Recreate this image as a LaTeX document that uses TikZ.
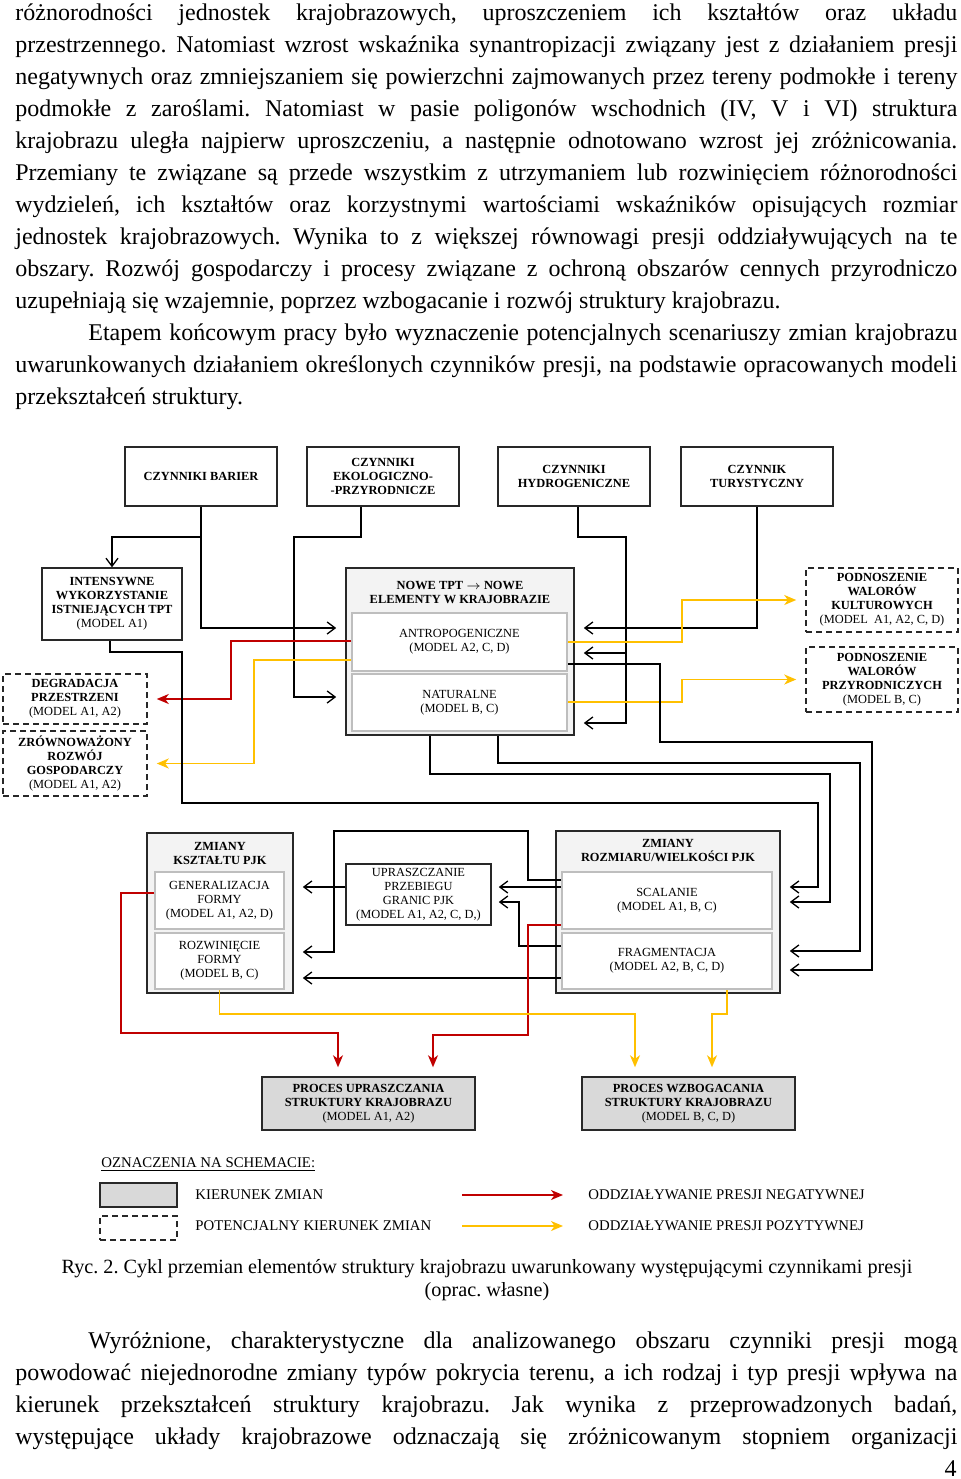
\documentclass[tikz,border=0pt]{standalone}
\usepackage{fontspec}
\setmainfont{Liberation Serif}
\usetikzlibrary{arrows.meta}
\definecolor{presneg}{RGB}{192,0,0}
\definecolor{prespos}{RGB}{255,192,0}
\definecolor{boxline}{RGB}{40,40,40}
\definecolor{groupfill}{RGB}{243,243,243}
\definecolor{innerline}{RGB}{190,190,190}
\definecolor{procfill}{RGB}{217,217,217}
\newcommand{\boxfont}{\fontsize{6.2}{7}\selectfont}
\newcommand{\legfont}{\fontsize{7.4}{8.5}\selectfont}
\newcommand{\bodyfont}{\fontsize{12}{16}\selectfont}
\tolerance=9999
\hyphenpenalty=10000
\hbadness=10000
\frenchspacing

\begin{document}
\begin{tikzpicture}[x=0.5pt, y=-0.5pt,
  factor/.style={draw=boxline, line width=0.75pt, fill=white, inner sep=0pt, align=center, font=\boxfont\bfseries},
  topbox/.style={factor, minimum width=76pt, minimum height=29.5pt},
  maybe/.style={factor, dash pattern=on 3pt off 2pt},
  group/.style={draw=boxline, line width=0.8pt, fill=groupfill, inner sep=0pt},
  grouptitle/.style={inner sep=0pt, align=center, font=\boxfont\bfseries},
  part/.style={draw=innerline, line width=0.8pt, fill=white, inner sep=0pt, align=center, font=\boxfont},
  process/.style={factor, fill=procfill, minimum width=106.5pt, minimum height=26.5pt},
  link/.style={draw=black, line width=0.65pt, -{Straight Barb[length=4pt,width=6pt]}},
  gap/.style={shorten >=4.5pt},
  negarrow/.style={draw=presneg, line width=0.75pt, -{Stealth[length=6pt,width=5pt,inset=1.8pt]}},
  posarrow/.style={negarrow, draw=prespos},
  bodytext/.style={inner sep=0pt, text width=471pt, align=justify, font=\bodyfont},
  legtext/.style={inner sep=0pt, font=\legfont}]

\useasboundingbox (0,0) rectangle (960,1479);

% === text above ===
\node[bodytext, anchor=base west] (parone) at (15,20) {różnorodności jednostek krajobrazowych, uproszczeniem ich kształtów oraz układu\linebreak przestrzennego. Natomiast wzrost wskaźnika synantropizacji związany jest z działaniem presji\linebreak negatywnych oraz zmniejszaniem się powierzchni zajmowanych przez tereny podmokłe i tereny\linebreak podmokłe z zaroślami. Natomiast w pasie poligonów wschodnich (IV, V i VI) struktura\linebreak krajobrazu uległa najpierw uproszczeniu, a następnie odnotowano wzrost jej zróżnicowania.\linebreak Przemiany te związane są przede wszystkim z utrzymaniem lub rozwinięciem różnorodności\linebreak wydzieleń, ich kształtów oraz korzystnymi wartościami wskaźników opisujących rozmiar\linebreak jednostek krajobrazowych. Wynika to z większej równowagi presji oddziaływujących na te\linebreak obszary. Rozwój gospodarczy i procesy związane z ochroną obszarów cennych przyrodniczo\linebreak uzupełniają się wzajemnie, poprzez wzbogacanie i rozwój struktury krajobrazu.};
\node[bodytext, anchor=base west] (partwo) at (15,340) {\hspace*{36.5pt}Etapem końcowym pracy było wyznaczenie potencjalnych scenariuszy zmian krajobrazu\linebreak uwarunkowanych działaniem określonych czynników presji, na podstawie opracowanych modeli\linebreak przekształceń struktury.};

% === pressure factors ===
\node[topbox] (barier) at (201,476.5) {CZYNNIKI BARIER};
\node[topbox] (eko) at (383,476.5) {CZYNNIKI\\EKOLOGICZNO-\\-PRZYRODNICZE};
\node[topbox] (hydro) at (574,476.5) {CZYNNIKI\\HYDROGENICZNE};
\node[topbox] (tury) at (757,476.5) {CZYNNIK\\TURYSTYCZNY};

% === second row ===
\node[factor, minimum width=70pt, minimum height=36pt] (intens) at (112,604) {INTENSYWNE\\WYKORZYSTANIE\\ISTNIEJĄCYCH TPT\\\mdseries(MODEL A1)};
\node[maybe, minimum width=72pt, minimum height=25pt] (degr) at (75,699) {DEGRADACJA\\PRZESTRZENI\\\mdseries(MODEL A1, A2)};
\node[maybe, minimum width=72pt, minimum height=32.5pt] (zrown) at (75,763.5) {ZRÓWNOWAŻONY\\ROZWÓJ\\GOSPODARCZY\\\mdseries(MODEL A1, A2)};
\node[group, minimum width=114pt, minimum height=83.5pt] (nowe) at (460,651.5) {};
\node[grouptitle] (nowetitle) at (460,592) {NOWE TPT $\rightarrow$ NOWE\\ELEMENTY W KRAJOBRAZIE};
\node[part, minimum width=107.5pt, minimum height=29pt] (antropo) at (459.5,642) {ANTROPOGENICZNE\\(MODEL A2, C, D)};
\node[part, minimum width=107.5pt, minimum height=28.5pt] (natural) at (459.5,702.5) {NATURALNE\\(MODEL B, C)};
\node[maybe, minimum width=76pt, minimum height=32pt] (kultur) at (882,600) {PODNOSZENIE\\WALORÓW\\KULTUROWYCH\\\mdseries(MODEL~ A1, A2, C, D)};
\node[maybe, minimum width=76pt, minimum height=32.5pt] (przyr) at (882,679.5) {PODNOSZENIE\\WALORÓW\\PRZYRODNICZYCH\\\mdseries(MODEL B, C)};

% === third row ===
\node[group, minimum width=73pt, minimum height=80pt] (ksz) at (220,913) {};
\node[grouptitle] (ksztitle) at (220,853) {ZMIANY\\KSZTAŁTU PJK};
\node[part, minimum width=64.5pt, minimum height=28.5pt] (gen) at (219.5,900.5) {GENERALIZACJA\\FORMY\\(MODEL A1, A2, D)};
\node[part, minimum width=64.5pt, minimum height=28pt] (rozw) at (219.5,961) {ROZWINIĘCIE\\FORMY\\(MODEL B, C)};
\node[factor, font=\boxfont, minimum width=72.5pt, minimum height=30.5pt] (upr) at (418.5,894.5) {UPRASZCZANIE\\PRZEBIEGU\\GRANIC PJK\\(MODEL A1, A2, C, D,)};
\node[group, minimum width=112pt, minimum height=81pt] (rozm) at (668,912) {};
\node[grouptitle] (rozmtitle) at (668,850) {ZMIANY\\ROZMIARU/WIELKOŚCI PJK};
\node[part, minimum width=105pt, minimum height=28.5pt] (scal) at (667,900.5) {SCALANIE\\(MODEL A1, B, C)};
\node[part, minimum width=105pt, minimum height=28pt] (frag) at (667,961) {FRAGMENTACJA\\(MODEL A2, B, C, D)};

% === processes ===
\node[process] (uproc) at (368.5,1103.5) {PROCES UPRASZCZANIA\\STRUKTURY KRAJOBRAZU\\\mdseries(MODEL A1, A2)};
\node[process] (wzb) at (688.5,1103.5) {PROCES WZBOGACANIA\\STRUKTURY KRAJOBRAZU\\\mdseries(MODEL B, C, D)};

% factors -> second row
\draw[link] (barier.south) |- (112,537) -- (intens.north);
\draw[link, gap] (barier.south) |- (nowe.west |- 0,628);
\draw[link, gap] (eko.south -| 361,0) |- (294,537) |- (nowe.west |- 0,697);
\draw[link, gap] (hydro.south -| 578,0) |- (626,537) |- (nowe.east |- 0,723);
\coordinate (hydrofork) at (626,653);
\draw[link, gap] (hydrofork) -- (nowe.east |- hydrofork);
\draw[link, gap] (tury.south) |- (nowe.east |- 0,628);
\draw[negarrow, gap] (antropo.west |- 0,641) -- (231,641) |- (degr.east);
\draw[posarrow, gap] (antropo.west |- 0,660) -- (254,660) |- (zrown.east);
\draw[posarrow, gap] (antropo.east |- 0,642) -- (682,642) |- (kultur.west);
\draw[posarrow, gap] (natural.east |- 0,702) -- (682,702) |- (przyr.west);

% second row -> third row
\draw[link, gap] (intens.south -| 110,0) |- (182,652) |- (818,803) |- (rozm.east |- 0,887);
\draw[link, gap] (nowe.south -| 430,0) |- (830,774) |- (rozm.east |- 0,902);
\draw[link, gap] (nowe.south -| 498,0) |- (860,763) |- (rozm.east |- 0,951);
\draw[link, gap] (antropo.east |- 0,664) -- (660,664) |- (872,742) |- (rozm.east |- 0,970);

% inside third row
\draw[link, gap] (upr.west |- 0,887) -- (ksz.east |- 0,887);
\draw[link, shorten >=3.5pt] (scal.west |- 0,887) -- (upr.east |- 0,887);
\draw[link, gap] (scal.west |- 0,880) -- (528,880) |- (334,831) |- (ksz.east |- 0,952);
\draw[link, shorten >=3.5pt] (frag.west |- 0,946) -- (519,946) |- (upr.east |- 0,902);
\draw[link, gap] (frag.west |- 0,978) -- (ksz.east |- 0,978);

% third row -> processes
\draw[negarrow, gap] (gen.west |- 0,893) -| (121,1033) -| (uproc.north -| 338,0);
\draw[negarrow, gap] (scal.west |- 0,925) -| (528,1035) -| (uproc.north -| 433,0);
\draw[posarrow, gap] (rozw.south) -- ++(0,24) -| (wzb.north -| 635,0);
\draw[posarrow, gap] (frag.south -| 727,0) -- ++(0,24) -| (wzb.north -| 712,0);

% === legend ===
\node[legtext, anchor=west] (legtitle) at (101,1165) {\underline{OZNACZENIA NA SCHEMACIE:}};
\node[draw=boxline, line width=0.75pt, fill=procfill, minimum width=38.5pt, minimum height=12pt] (legsolid) at (138.5,1195) {};
\node[draw=boxline, line width=0.75pt, dash pattern=on 3pt off 2pt, minimum width=38.5pt, minimum height=12pt] (legdashed) at (138.5,1228) {};
\node[legtext, anchor=west] (legsolidtxt) at (195,1195) {KIERUNEK ZMIAN};
\node[legtext, anchor=west] (legdashedtxt) at (195,1226) {POTENCJALNY KIERUNEK ZMIAN};
\node[legtext, anchor=west] (legneg) at (588,1195) {ODDZIAŁYWANIE PRESJI NEGATYWNEJ};
\node[legtext, anchor=west] (legpos) at (588,1226) {ODDZIAŁYWANIE PRESJI POZYTYWNEJ};
\coordinate (negstart) at (462,1195);
\coordinate (posstart) at (462,1226);
\draw[negarrow, shorten >=12.5pt] (negstart) -- (legneg.west);
\draw[posarrow, shorten >=12.5pt] (posstart) -- (legpos.west);

% === caption and text below ===
\node[align=center, inner sep=0pt, font=\fontsize{10.1}{11.5}\selectfont] (caption) at (487,1280) {Ryc. 2. Cykl przemian elementów struktury krajobrazu uwarunkowany występującymi czynnikami presji\\(oprac. własne)};
\node[bodytext, anchor=base west] (parthree) at (15,1348) {\parfillskip=0pt\hspace*{36.5pt}Wyróżnione, charakterystyczne dla analizowanego obszaru czynniki presji mogą\linebreak powodować niejednorodne zmiany typów pokrycia terenu, a ich rodzaj i typ presji wpływa na\linebreak kierunek przekształceń struktury krajobrazu. Jak wynika z przeprowadzonych badań,\linebreak występujące układy krajobrazowe odznaczają się zróżnicowanym stopniem organizacji\par};
\node[inner sep=0pt, anchor=base east, font=\bodyfont] (pagenum) at (957,1476) {4};

\end{tikzpicture}
\end{document}
